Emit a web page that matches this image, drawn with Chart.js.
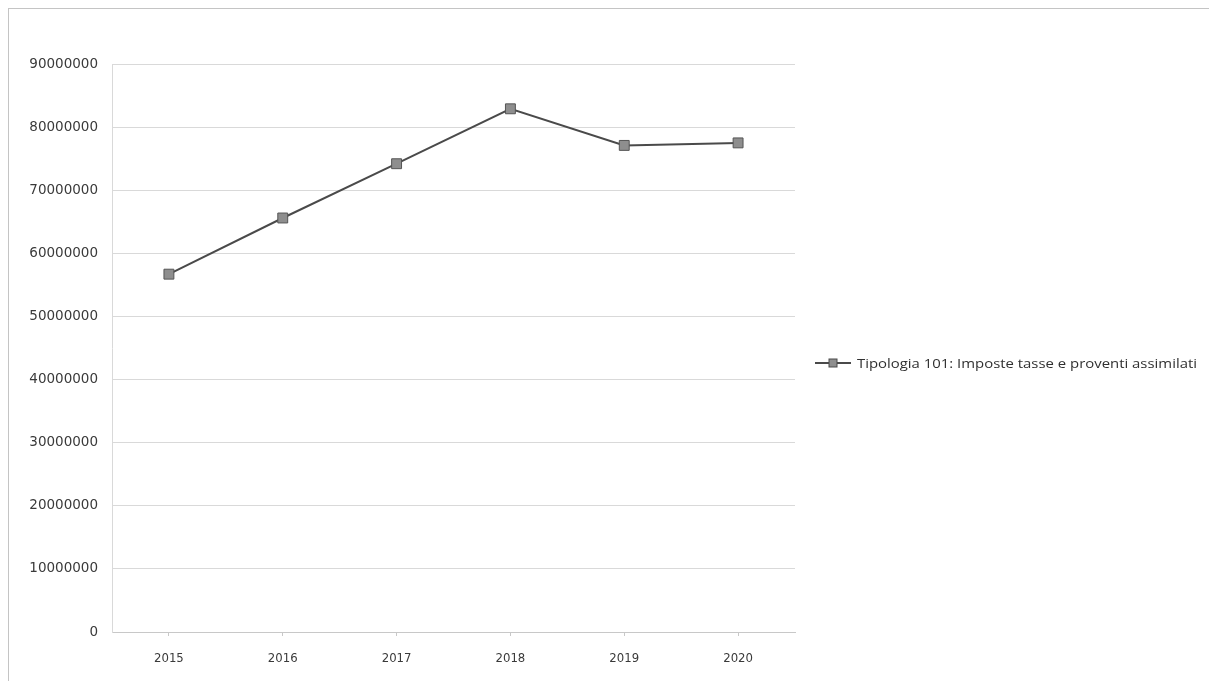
<!DOCTYPE html>
<html>
<head>
<meta charset="utf-8">
<script src="https://cdn.jsdelivr.net/npm/chart.js@4.4.0/dist/chart.umd.min.js"></script>
<style>
  html, body { margin: 0; padding: 0; background: #fff; }
  #wrap { position: relative; width: 1209px; height: 681px; overflow: hidden; }
  #frame {
    position: absolute; left: 8px; top: 8px; width: 1300px; height: 700px;
    border-left: 1px solid #c4c4c4; border-top: 1px solid #c4c4c4;
    pointer-events: none;
  }
  canvas { position: absolute; left: 0; top: 0; }
</style>
</head>
<body>
<div id="wrap">
  <canvas id="chart" width="1209" height="681"></canvas>
  <div id="frame"></div>
</div>
<script>
const years = ["2015", "2016", "2017", "2018", "2019", "2020"];
const entrate = [56700000, 65600000, 74200000, 82900000, 77100000, 77500000];
const seriesLabel = "Tipologia 101: Imposte tasse e proventi assimilati";
const yMax = 90000000;
const yStep = 10000000;

const LINE_COLOR = "#4a4a4a";
const MARKER_FILL = "#8e8e8e";

// legend drawn by hand: Excel style line with marker in the middle
const legendPlugin = {
  id: "excelLegend",
  afterDraw(chart) {
    const ctx = chart.ctx;
    const y = 363;
    ctx.save();
    ctx.strokeStyle = LINE_COLOR;
    ctx.lineWidth = 2;
    ctx.beginPath();
    ctx.moveTo(815, y);
    ctx.lineTo(851, y);
    ctx.stroke();
    ctx.fillStyle = MARKER_FILL;
    ctx.fillRect(829, y - 4, 8, 8);
    ctx.lineWidth = 1;
    ctx.strokeRect(829, y - 4, 8, 8);
    // stretch the text so it spans the same width as in the original
    ctx.font = "13.5px 'Open Sans'";
    const w = ctx.measureText(seriesLabel).width;
    ctx.fillStyle = "#303030";
    ctx.textBaseline = "middle";
    ctx.translate(857, y + 1);
    ctx.scale(340 / w, 1);
    ctx.fillText(seriesLabel, 0, 0);
    ctx.restore();
  },
};

new Chart(document.getElementById("chart"), {
  type: "line",
  data: {
    labels: years,
    datasets: [
      {
        label: seriesLabel,
        data: entrate,
        borderColor: LINE_COLOR,
        borderWidth: 2,
        pointStyle: "rect",
        pointRadius: 7,
        pointBackgroundColor: MARKER_FILL,
        pointBorderColor: "#555555",
        pointBorderWidth: 1,
        tension: 0,
      },
    ],
  },
  options: {
    responsive: false,
    animation: false,
    layout: { padding: { left: 10, right: 414, top: 64, bottom: 0 } },
    plugins: { legend: { display: false }, tooltip: { enabled: false } },
    scales: {
      x: {
        offset: true,
        grid: { drawOnChartArea: false, color: "#c8c8c8", tickLength: 4 },
        border: { color: "#c8c8c8" },
        ticks: {
          color: "#3a3a3a",
          font: { family: "'DejaVu Sans Condensed', 'Liberation Sans'", size: 13 },
          padding: 15,
        },
        afterFit(scale) { scale.height = 49; },
      },
      y: {
        min: 0,
        max: yMax,
        ticks: {
          stepSize: yStep,
          color: "#3a3a3a",
          font: { family: "'DejaVu Sans'", size: 13.5 },
          padding: 14,
          callback: (v) => String(v),
        },
        grid: { color: "#d9d9d9", drawTicks: false },
        border: { display: true, color: "#d9d9d9" },
        afterFit(scale) { scale.width = 102; },
      },
    },
  },
  plugins: [legendPlugin],
});
</script>
</body>
</html>
